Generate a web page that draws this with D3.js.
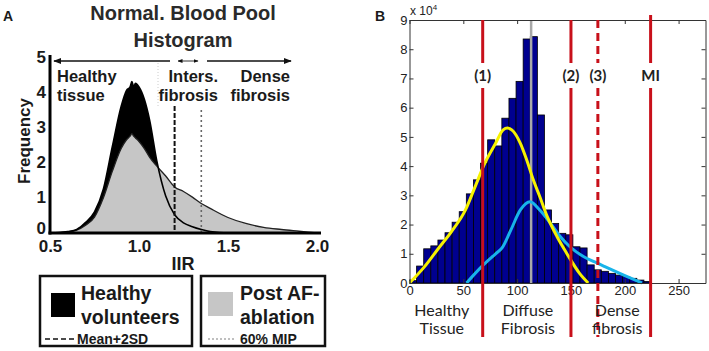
<!DOCTYPE html>
<html>
<head>
<meta charset="utf-8">
<script src="https://cdn.jsdelivr.net/npm/d3@7"></script>
<style>
  body { margin: 0; background: #fff; }
  svg { display: block; }
  .a-txt { font-family: "Liberation Sans", Arial, sans-serif; font-weight: bold; fill: #1a1a1a; }
  .b-axis text { font-family: "Liberation Sans", Arial, sans-serif; font-size: 13px; fill: #222; }
  .b-axis path, .b-axis line { stroke: #333; }
  .b-lbl { font-family: Lato, "Open Sans", sans-serif; fill: #222; }
</style>
</head>
<body>
<div id="chart"></div>
<script>
// ---- panel A data (IIR vs frequency) ----
var iir      = [0.5, 0.55, 0.6, 0.65, 0.7, 0.75, 0.8, 0.85, 0.9, 0.93, 0.95, 0.96, 0.97, 0.98, 1.0, 1.03, 1.06, 1.1, 1.15, 1.2, 1.25, 1.3, 1.35, 1.4, 1.5, 1.6, 1.7, 1.8, 1.9, 2.0]
var healthy  = [0, 0.01, 0.04, 0.1, 0.3, 0.6, 1.25, 2.45, 3.6, 4.05, 4.15, 4.3, 4.15, 4.25, 4.15, 3.8, 3.2, 2.05, 1.05, 0.52, 0.29, 0.18, 0.1, 0.04, 0, 0, 0, 0, 0, 0]
var postAF   = [0, 0.01, 0.03, 0.08, 0.22, 0.45, 1.0, 1.75, 2.4, 2.65, 2.75, 2.82, 2.75, 2.7, 2.6, 2.4, 2.15, 1.9, 1.62, 1.31, 1.18, 1.02, 0.84, 0.7, 0.44, 0.27, 0.16, 0.1, 0.05, 0]
var aXTicks  = [0.5, 1.0, 1.5, 2.0]
var aYTicks  = [0, 1, 2, 3, 4, 5]
var mean2SD  = 1.2
var mip60    = 1.35

// ---- panel B data (histogram, x 10^4) ----
var binWidth = 6.6
var counts   = [0.08, 0.58, 1.17, 1.27, 1.47, 1.72, 2.08, 2.44, 3.05, 3.53, 4.10, 4.90, 4.69, 5.64, 6.32, 6.90, 8.35, 8.43, 5.75, 2.50, 2.04, 1.70, 1.65, 1.24, 1.20, 0.62, 0.45, 0.40, 0.33, 0.27, 0.22, 0.16, 0.10, 0.05]
var yellowX  = [0, 14, 27, 39, 52, 61, 70, 80, 87, 91, 95, 103, 109, 115, 121, 128, 137, 146, 158, 166]
var yellowY  = [0, 0.56, 1.19, 1.76, 2.5, 3.3, 4.1, 4.78, 5.24, 5.3, 5.24, 4.78, 4.2, 3.53, 2.96, 2.27, 1.59, 1.02, 0.33, 0]
var cyanX    = [53, 67, 80, 86, 94, 103, 112, 121, 131, 140, 149, 162, 172, 182, 199, 216]
var cyanY    = [0, 0.56, 1.0, 1.2, 1.8, 2.5, 2.78, 2.5, 2.04, 1.59, 1.24, 0.9, 0.72, 0.55, 0.27, 0]
var thresholds = [{v: 68, label: "(1)", dash: false}, {v: 150, label: "(2)", dash: false}, {v: 175, label: "(3)", dash: true}, {v: 224, label: "MI", dash: false}]
var meanLine = 113
var bXTicks  = [0, 50, 100, 150, 200, 250]
var bYTicks  = [0, 1, 2, 3, 4, 5, 6, 7, 8, 9]
var regions  = [{x: 30, l1: "Healthy", l2: "Tissue"}, {x: 110, l1: "Diffuse", l2: "Fibrosis"}, {x: 193, l1: "Dense", l2: "fibrosis"}]

var svg = d3.select("#chart").append("svg")
    .attr("width", 709)
    .attr("height", 351)

// ================= PANEL A =================
var ax = d3.scaleLinear().domain([0.5, 2.0]).range([50, 317])
var ay = d3.scaleLinear().domain([0, 5]).range([233, 57])

var A = svg.append("g")

A.append("text").attr("class", "a-txt").attr("x", 3).attr("y", 21).attr("font-size", 14).text("A")
A.append("text").attr("class", "a-txt").attr("x", 183).attr("y", 20).attr("font-size", 20).attr("text-anchor", "middle").style("fill", "#2a2a2a").text("Normal. Blood Pool")
A.append("text").attr("class", "a-txt").attr("x", 183).attr("y", 47).attr("font-size", 20).attr("text-anchor", "middle").style("fill", "#2a2a2a").text("Histogram")

var pts = iir.map((d, i) => ({x: d, h: healthy[i], p: postAF[i]}))

var areaH = d3.area().x(d => ax(d.x)).y0(ay(0)).y1(d => ay(d.h)).curve(d3.curveMonotoneX)
var areaP = d3.area().x(d => ax(d.x)).y0(ay(0)).y1(d => ay(d.p)).curve(d3.curveMonotoneX)
var lineH = d3.line().x(d => ax(d.x)).y(d => ay(d.h)).curve(d3.curveMonotoneX)
var lineP = d3.line().x(d => ax(d.x)).y(d => ay(d.p)).curve(d3.curveMonotoneX)

A.append("path").attr("d", areaH(pts)).attr("fill", "#000")
A.append("path").attr("d", areaP(pts)).attr("fill", "#c6c6c6")
A.append("path").attr("d", lineP(pts)).attr("fill", "none").attr("stroke", "#222").attr("stroke-width", 1.3)
A.append("path").attr("d", lineH(pts)).attr("fill", "none").attr("stroke", "#000").attr("stroke-width", 1.6)

// threshold lines
A.append("line").attr("x1", ax(mean2SD)).attr("x2", ax(mean2SD)).attr("y1", 106).attr("y2", ay(0))
  .attr("stroke", "#111").attr("stroke-width", 2).attr("stroke-dasharray", "5,2")
A.append("line").attr("x1", ax(mip60)).attr("x2", ax(mip60)).attr("y1", 110).attr("y2", ay(0))
  .attr("stroke", "#666").attr("stroke-width", 1.6).attr("stroke-dasharray", "2,3")
A.append("line").attr("x1", 158).attr("x2", 158).attr("y1", 63).attr("y2", 107)
  .attr("stroke", "#ccc").attr("stroke-width", 1).attr("stroke-dasharray", "1,2")

// region arrows
var defs = svg.append("defs")
defs.append("marker").attr("id", "arr").attr("viewBox", "0 0 10 10").attr("refX", 9).attr("refY", 5)
  .attr("markerWidth", 5).attr("markerHeight", 5).attr("orient", "auto-start-reverse")
  .append("path").attr("d", "M0,1 L10,5 L0,9 z").attr("fill", "#111")
A.append("line").attr("x1", 54).attr("x2", 170).attr("y1", 61).attr("y2", 61)
  .attr("stroke", "#111").attr("stroke-width", 1.6).attr("marker-start", "url(#arr)")
A.append("line").attr("x1", 178).attr("x2", 198).attr("y1", 61).attr("y2", 61)
  .attr("stroke", "#333").attr("stroke-width", 1).attr("marker-start", "url(#arr)").attr("marker-end", "url(#arr)")
A.append("line").attr("x1", 207).attr("x2", 291).attr("y1", 61).attr("y2", 61)
  .attr("stroke", "#111").attr("stroke-width", 1.6).attr("marker-end", "url(#arr)")

A.append("text").attr("class", "a-txt").attr("x", 57).attr("y", 82).attr("font-size", 16.5).text("Healthy")
A.append("text").attr("class", "a-txt").attr("x", 57).attr("y", 101).attr("font-size", 16.5).text("tissue")
A.append("text").attr("class", "a-txt").attr("x", 218).attr("y", 82).attr("font-size", 16.5).attr("text-anchor", "end").text("Inters.")
A.append("text").attr("class", "a-txt").attr("x", 218).attr("y", 101).attr("font-size", 16.5).attr("text-anchor", "end").text("fibrosis")
A.append("text").attr("class", "a-txt").attr("x", 290).attr("y", 82).attr("font-size", 16.5).attr("text-anchor", "end").text("Dense")
A.append("text").attr("class", "a-txt").attr("x", 290).attr("y", 101).attr("font-size", 16.5).attr("text-anchor", "end").text("fibrosis")

// axes
var aYAxis = A.append("g").attr("transform", "translate(50,0)")
  .call(d3.axisLeft(ay).tickValues(aYTicks).tickFormat(d3.format("d")).tickSize(0).tickPadding(4))
aYAxis.select(".domain").remove()
aYAxis.selectAll("text").attr("class", "a-txt").attr("font-size", 17).attr("dy", d => d === 0 ? "0.05em" : "0.3em")

var aXAxis = A.append("g").attr("transform", "translate(0,233)")
  .call(d3.axisBottom(ax).tickValues(aXTicks).tickFormat(d3.format(".1f")).tickSize(0).tickPadding(7))
aXAxis.select(".domain").remove()
aXAxis.selectAll("text").attr("class", "a-txt").attr("font-size", 17)

A.append("line").attr("x1", 50).attr("x2", 50).attr("y1", 55).attr("y2", 234.5).attr("stroke", "#000").attr("stroke-width", 3)
A.append("line").attr("x1", 48.5).attr("x2", 321).attr("y1", 233).attr("y2", 233).attr("stroke", "#000").attr("stroke-width", 3)

A.append("text").attr("class", "a-txt").attr("font-size", 17).attr("text-anchor", "middle")
  .attr("transform", "translate(30,141) rotate(-90)").text("Frequency")
A.append("text").attr("class", "a-txt").attr("x", 183).attr("y", 270).attr("font-size", 18).attr("text-anchor", "middle").text("IIR")

// legend boxes
A.append("rect").attr("x", 40).attr("y", 276).attr("width", 152).attr("height", 70).attr("fill", "none").attr("stroke", "#111").attr("stroke-width", 2.5)
A.append("rect").attr("x", 51).attr("y", 293).attr("width", 24).attr("height", 24).attr("fill", "#000")
A.append("text").attr("class", "a-txt").attr("x", 81).attr("y", 300).attr("font-size", 19.5).text("Healthy")
A.append("text").attr("class", "a-txt").attr("x", 81).attr("y", 324).attr("font-size", 19.5).text("volunteers")
A.append("line").attr("x1", 45).attr("x2", 74).attr("y1", 339).attr("y2", 339).attr("stroke", "#111").attr("stroke-width", 1.6).attr("stroke-dasharray", "5,3")
A.append("text").attr("class", "a-txt").attr("x", 77).attr("y", 344).attr("font-size", 14).text("Mean+2SD")

A.append("rect").attr("x", 201).attr("y", 276).attr("width", 124).attr("height", 70).attr("fill", "none").attr("stroke", "#111").attr("stroke-width", 2.5)
A.append("rect").attr("x", 208).attr("y", 292).attr("width", 25).attr("height", 24).attr("fill", "#c6c6c6")
A.append("text").attr("class", "a-txt").attr("x", 240).attr("y", 300).attr("font-size", 19.5).text("Post AF-")
A.append("text").attr("class", "a-txt").attr("x", 240).attr("y", 324).attr("font-size", 19.5).text("ablation")
A.append("line").attr("x1", 208).attr("x2", 234).attr("y1", 339).attr("y2", 339).attr("stroke", "#aaa").attr("stroke-width", 1.4).attr("stroke-dasharray", "2,2")
A.append("text").attr("class", "a-txt").attr("x", 240).attr("y", 344).attr("font-size", 14).text("60% MIP")

// ================= PANEL B =================
var bx = d3.scaleLinear().domain([0, 275]).range([409.5, 705.5])
var by = d3.scaleLinear().domain([0, 9]).range([283, 20])

var B = svg.append("g")

B.append("text").attr("class", "a-txt").attr("x", 375).attr("y", 21).attr("font-size", 14).text("B")

B.selectAll("rect.bar").data(counts).enter().append("rect")
  .attr("class", "bar")
  .attr("x", (d, i) => bx(i * binWidth))
  .attr("width", (d, i) => bx((i + 1) * binWidth) - bx(i * binWidth))
  .attr("y", d => by(d))
  .attr("height", d => by(0) - by(d))
  .attr("fill", "#00008f")
  .attr("stroke", "#000")
  .attr("stroke-width", 0.8)

B.append("line").attr("x1", bx(meanLine)).attr("x2", bx(meanLine)).attr("y1", by(9)).attr("y2", by(0))
  .attr("stroke", "#a8a8a8").attr("stroke-width", 2.5)

var curve = d3.line().x(d => bx(d[0])).y(d => by(d[1])).curve(d3.curveMonotoneX)
B.append("path").attr("d", curve(cyanX.map((d, i) => [d, cyanY[i]])))
  .attr("fill", "none").attr("stroke", "#18b4ea").attr("stroke-width", 3)
B.append("path").attr("d", curve(yellowX.map((d, i) => [d, yellowY[i]])))
  .attr("fill", "none").attr("stroke", "#f6f200").attr("stroke-width", 3)

// axes frame with inward ticks
var bL = B.append("g").attr("class", "b-axis").attr("transform", "translate(409.5,0)")
  .call(d3.axisLeft(by).tickValues(bYTicks).tickSizeInner(-4).tickSizeOuter(0).tickPadding(6))
var bR = B.append("g").attr("class", "b-axis").attr("transform", "translate(705.5,0)")
  .call(d3.axisRight(by).tickValues(bYTicks).tickSizeInner(-4).tickSizeOuter(0).tickFormat(""))
var bT = B.append("g").attr("class", "b-axis").attr("transform", "translate(0,20)")
  .call(d3.axisTop(bx).tickValues(bXTicks).tickSizeInner(-4).tickSizeOuter(0).tickFormat(""))
var bB = B.append("g").attr("class", "b-axis").attr("transform", "translate(0,283)")
  .call(d3.axisBottom(bx).tickValues(bXTicks).tickSizeInner(-4).tickSizeOuter(0).tickPadding(2))
bL.selectAll("text").attr("dx", "4")
bB.selectAll("text").attr("dy", "0.75em")

var sx = B.append("text").attr("x", 410).attr("y", 15).attr("font-family", "Liberation Sans, Arial, sans-serif").attr("font-size", 12).attr("fill", "#222")
sx.append("tspan").text("x 10")
sx.append("tspan").attr("font-size", 8).attr("dy", -5).text("4")

// threshold lines
thresholds.forEach(t => {
  var x = bx(t.v)
  var top = t.label === "MI" ? 15 : 20
  B.append("line").attr("x1", x).attr("x2", x).attr("y1", top).attr("y2", 63)
    .attr("stroke", "#c8101a").attr("stroke-width", 3).attr("stroke-dasharray", t.dash ? "8,5" : null)
  B.append("line").attr("x1", x).attr("x2", x).attr("y1", 88).attr("y2", 337)
    .attr("stroke", "#c8101a").attr("stroke-width", 3).attr("stroke-dasharray", t.dash ? "8,5" : null)
  B.append("text").attr("class", "b-lbl").attr("x", x).attr("y", 81).attr("text-anchor", "middle")
    .attr("font-size", 15).attr("font-weight", "bold").text(t.label)
})

regions.forEach(r => {
  B.append("text").attr("class", "b-lbl").attr("x", bx(r.x)).attr("y", 316).attr("text-anchor", "middle").attr("font-size", 16).text(r.l1)
  B.append("text").attr("class", "b-lbl").attr("x", bx(r.x)).attr("y", 334).attr("text-anchor", "middle").attr("font-size", 16).text(r.l2)
})
</script>
</body>
</html>
